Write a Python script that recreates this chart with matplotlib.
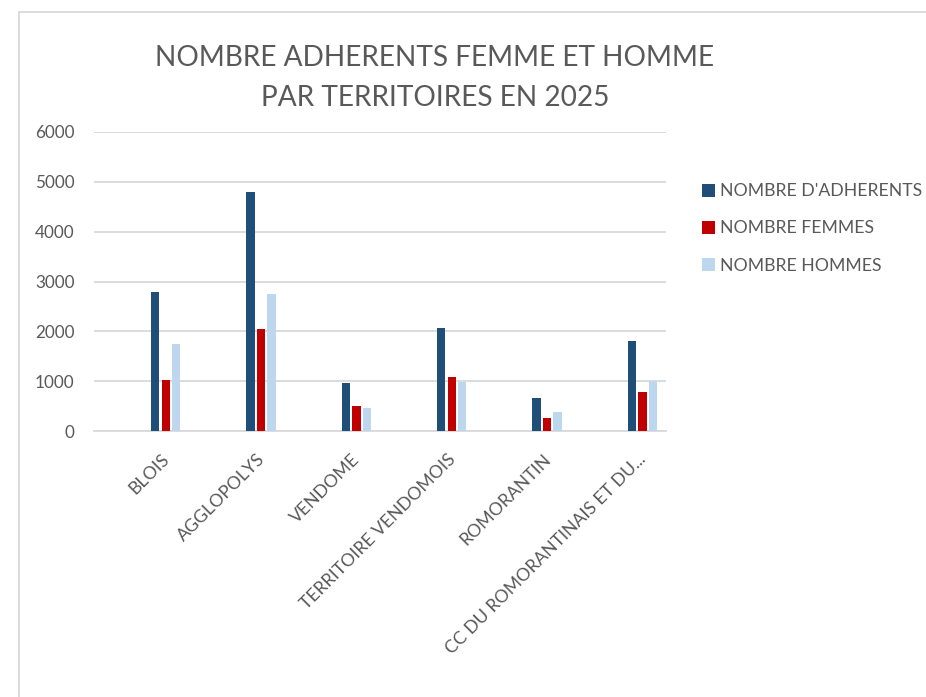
import numpy as np
import matplotlib
matplotlib.use("Agg")
import matplotlib.pyplot as plt
from matplotlib.patches import Rectangle, Patch
from matplotlib.transforms import offset_copy

plt.rcParams['font.family'] = ['Lato', 'DejaVu Sans']

# données
territoires = ["BLOIS", "AGGLOPOLYS", "VENDOME", "TERRITOIRE VENDOMOIS",
               "ROMORANTIN", "CC DU ROMORANTINAIS ET DU..."]
adherents = [2780, 4800, 970, 2070, 670, 1800]
femmes = [1030, 2040, 500, 1080, 270, 790]
hommes = [1740, 2750, 460, 980, 390, 1000]

series = ["NOMBRE D'ADHERENTS", "NOMBRE FEMMES", "NOMBRE HOMMES"]
couleurs = ["#1f4e79", "#c00000", "#bdd7ee"]
texte = "#595959"
grille = "#d9d9d9"

fig = plt.figure(figsize=(9.26, 6.97), dpi=100)
ax = fig.add_axes([94 / 926, 1 - 431 / 697, 572 / 926, 299 / 697])

x = np.arange(len(territoires))
largeur = 0.087
decalages = [0.142, 0.253, 0.363]
for vals, dec, coul, nom in zip([adherents, femmes, hommes], decalages, couleurs, series):
    ax.bar(x + dec, vals, width=largeur, color=coul, label=nom, zorder=3)

ax.set_xlim(-0.5, len(territoires) - 0.5)
ax.set_ylim(0, 6000)
ax.set_yticks(range(0, 6001, 1000))
ax.yaxis.grid(True, color=grille, linewidth=1.3, zorder=0)
ax.set_axisbelow(True)
for s in ["top", "right", "left"]:
    ax.spines[s].set_visible(False)
ax.spines["bottom"].set_color(grille)
ax.spines["bottom"].set_linewidth(1.3)
ax.tick_params(axis="both", length=0, colors=texte, labelsize=12.3)
ax.tick_params(axis="y", pad=14)

# étiquettes inclinées
ax.set_xticks(x)
ax.set_xticklabels([])
trans = offset_copy(ax.transData, fig=fig, x=25, y=-26, units="dots")
for xi, nom in zip(x, territoires):
    ax.text(xi, 0, nom, transform=trans, rotation=45, rotation_mode="anchor",
            ha="right", va="center", color=texte, fontsize=12.7)

# titre
fig.text(435 / 926, 1 - 58 / 697, "NOMBRE ADHERENTS FEMME ET HOMME", ha="center",
         va="center", fontsize=20.2, color=texte)
fig.text(435 / 926, 1 - 98 / 697, "PAR TERRITOIRES EN 2025", ha="center",
         va="center", fontsize=20.2, color=texte)

# légende
poignees = [Patch(facecolor=c) for c in couleurs]
fig.legend(poignees, series, loc="upper left", bbox_to_anchor=(697 / 926, 1 - 178 / 697),
           frameon=False, fontsize=12.7, labelcolor=texte, handlelength=0.7,
           handleheight=0.75, handletextpad=0.3, labelspacing=1.2, borderaxespad=0,
           borderpad=0.3)

# cadre du graphique
fig.patches.append(Rectangle((19 / 926, -0.1), 1.2, 1.1 - 12 / 697, transform=fig.transFigure,
                             fill=False, edgecolor=grille, linewidth=1.3))

fig.savefig("out.png", dpi=100)
